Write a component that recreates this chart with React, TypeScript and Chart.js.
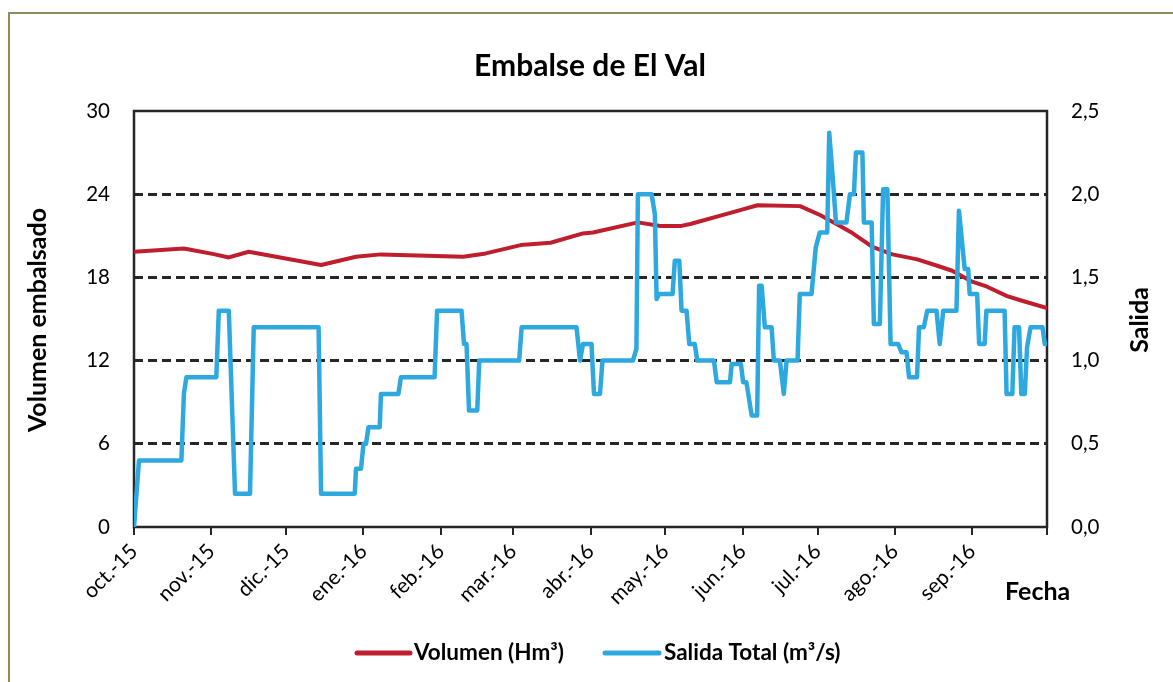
import React, { useEffect, useRef } from "react";
import { Chart, registerables } from "chart.js";

Chart.register(...registerables);

// ---- data ----
const monthLabels = [
  "oct.-15", "nov.-15", "dic.-15", "ene.-16", "feb.-16", "mar.-16",
  "abr.-16", "may.-16", "jun.-16", "jul.-16", "ago.-16", "sep.-16",
];
// day index (from 1 Oct 2015) where each month starts; last = 1 Oct 2016
const monthStartDays = [0, 31, 61, 92, 123, 152, 183, 213, 244, 274, 305, 336, 366];

const volumeDays = [
  0, 20, 32, 38, 46, 75, 89, 99, 121, 132, 141, 155, 167, 180, 184, 202, 211, 219,
  223, 238, 243, 250, 267, 275, 283, 288, 296, 304, 314, 322, 328, 336, 342, 350, 355, 366,
];
const volumeValues = [
  19.85, 20.09, 19.68, 19.44, 19.85, 18.89, 19.49, 19.66, 19.54, 19.49, 19.73, 20.33,
  20.5, 21.17, 21.24, 21.97, 21.7, 21.7, 21.85, 22.6, 22.85, 23.2, 23.14, 22.5, 21.7,
  21.2, 20.2, 19.66, 19.3, 18.84, 18.48, 17.69, 17.33, 16.65, 16.37, 15.79,
];

const outflowDays = [
  0, 2, 19, 20, 21, 33, 34, 38, 40.5, 46.5, 48, 74, 75, 88.5, 89, 91, 92, 93, 94, 98.5,
  99, 106, 107, 120.5, 121.5, 131.3, 132.3, 133.3, 134.3, 137.6, 138.4, 154.4, 155.4,
  177.4, 178.8, 180, 183.4, 184.4, 186.8, 187.8, 200, 201.4, 202, 207.5, 208.8, 209.5,
  210.5, 215.9, 216.8, 218.6, 219.5, 221.5, 222.6, 224.8, 225.8, 232.5, 233.6, 238.9,
  239.6, 243.3, 244.2, 245.5, 247.6, 249.8, 250.6, 251.6, 252.9, 255.6, 256.5, 258.9,
  260.5, 261.6, 266, 266.9, 271.6, 273.3, 274.9, 277.9, 278.7, 280.3, 281.4, 285.6,
  287, 288.6, 289.4, 292, 292.6, 295.7, 296.6, 299, 300.3, 302, 303.3, 306.3, 307.7,
  309.7, 310.7, 313.9, 314.7, 316.6, 318, 321.7, 323, 324.4, 329.7, 330.7, 333, 334.4,
  335, 338, 338.8, 341, 341.7, 349, 349.8, 352.1, 353, 354.8, 355.7, 357.1, 358, 359.4,
  364.2, 365.1, 366,
];
const outflowValues = [
  0, 0.4, 0.4, 0.8, 0.9, 0.9, 1.3, 1.3, 0.2, 0.2, 1.2, 1.2, 0.2, 0.2, 0.35, 0.35, 0.5, 0.5,
  0.6, 0.6, 0.8, 0.8, 0.9, 0.9, 1.3, 1.3, 1.1, 1.1, 0.7, 0.7, 1.0, 1.0, 1.2, 1.2, 1.0,
  1.1, 1.1, 0.8, 0.8, 1.0, 1.0, 1.07, 2.0, 2.0, 1.88, 1.37, 1.4, 1.4, 1.6, 1.6, 1.3, 1.3,
  1.1, 1.1, 1.0, 1.0, 0.87, 0.87, 0.98, 0.98, 0.87, 0.87, 0.67, 0.67, 1.45, 1.45, 1.2,
  1.2, 1.0, 1.0, 0.8, 1.0, 1.0, 1.4, 1.4, 1.68, 1.77, 1.77, 2.37, 2.06, 1.83, 1.83, 2.0,
  2.0, 2.25, 2.25, 1.83, 1.83, 1.22, 1.22, 2.03, 2.03, 1.1, 1.1, 1.05, 1.05, 0.9, 0.9,
  1.2, 1.2, 1.3, 1.3, 1.1, 1.3, 1.3, 1.9, 1.55, 1.55, 1.4, 1.4, 1.1, 1.1, 1.3, 1.3, 0.8,
  0.8, 1.2, 1.2, 0.8, 0.8, 1.08, 1.2, 1.2, 1.1, 1.1,
];

const leftMax = 30;
const leftStep = 6;
const rightMax = 2.5;
const rightStep = 0.5;

const titleText = "Embalse de El Val";
const leftTitle = "Volumen embalsado";
const rightTitle = "Salida";
const xTitle = "Fecha";
const volumeLabel = "Volumen (Hm³)";
const outflowLabel = "Salida Total (m³/s)";

const RED = "#BE1E2D";
const BLUE = "#2EA9DF";
const DARK = "#262626";
const FONT = "Lato, 'Open Sans', sans-serif";

const decorPlugin = {
  id: "decor",
  beforeDraw(chart: any) {
    const c = chart.ctx;
    c.save();
    c.fillStyle = "#ffffff";
    c.fillRect(0, 0, chart.width, chart.height);
    c.strokeStyle = "#8E8C5E";
    c.lineWidth = 2;
    c.strokeRect(9, 13, chart.width + 40, chart.height + 40);
    c.restore();
  },
  beforeDatasetsDraw(chart: any) {
    const c = chart.ctx;
    const { left, right, top, bottom } = chart.chartArea;
    c.save();
    c.strokeStyle = DARK;
    c.lineWidth = 2.5;
    c.setLineDash([]);
    c.strokeRect(left, top, right - left, bottom - top);
    c.restore();
  },
  afterDraw(chart: any) {
    const c = chart.ctx;
    c.save();
    c.fillStyle = "#000000";
    c.textBaseline = "middle";
    // title
    c.font = `bold 30px ${FONT}`;
    c.textAlign = "center";
    c.fillText(titleText, 590, 66);
    // left axis title
    c.font = `bold 25px ${FONT}`;
    c.save();
    c.translate(38, 320);
    c.rotate(-Math.PI / 2);
    c.fillText(leftTitle, 0, 0);
    c.restore();
    // right axis title
    c.save();
    c.translate(1140, 320);
    c.rotate(-Math.PI / 2);
    c.fillText(rightTitle, 0, 0);
    c.restore();
    // x title
    c.textAlign = "left";
    c.fillText(xTitle, 1005, 592);
    // legend
    const ly = 653;
    c.lineCap = "round";
    c.lineWidth = 5;
    c.strokeStyle = RED;
    c.beginPath();
    c.moveTo(357, ly);
    c.lineTo(410, ly);
    c.stroke();
    c.strokeStyle = BLUE;
    c.beginPath();
    c.moveTo(605, ly);
    c.lineTo(659, ly);
    c.stroke();
    c.font = `bold 22.5px ${FONT}`;
    c.fillText(volumeLabel, 414, ly);
    c.fillText(outflowLabel, 664, ly);
    c.restore();
  },
};

export default function App() {
  const ref = useRef<HTMLCanvasElement | null>(null);

  useEffect(() => {
    if (!ref.current) return;
    const volumePoints = volumeDays.map((d, i) => ({ x: d, y: volumeValues[i] }));
    const outflowPoints = outflowDays.map((d, i) => ({ x: d, y: outflowValues[i] }));

    const chart = new Chart(ref.current, {
      type: "line",
      data: {
        datasets: [
          {
            label: volumeLabel,
            data: volumePoints,
            yAxisID: "yL",
            borderColor: RED,
            borderWidth: 4,
            pointRadius: 0,
            tension: 0,
            borderJoinStyle: "round",
            borderCapStyle: "round",
            order: 2,
          },
          {
            label: outflowLabel,
            data: outflowPoints,
            yAxisID: "yR",
            borderColor: BLUE,
            borderWidth: 4.5,
            pointRadius: 0,
            tension: 0,
            borderJoinStyle: "round",
            borderCapStyle: "round",
            order: 1,
          },
        ],
      },
      options: {
        responsive: false,
        animation: false,
        events: [],
        layout: { padding: { left: 0, right: 0, top: 111, bottom: 0 } },
        plugins: {
          legend: { display: false },
          title: { display: false },
          tooltip: { enabled: false },
        },
        scales: {
          x: {
            type: "linear",
            min: 0,
            max: 366,
            afterBuildTicks: (scale: any) => {
              scale.ticks = monthStartDays.map((v) => ({ value: v }));
            },
            afterFit: (scale: any) => {
              scale.height = 155;
            },
            ticks: {
              autoSkip: false,
              minRotation: 45,
              maxRotation: 45,
              padding: 4,
              color: "#000000",
              font: { family: FONT, size: 21 },
              callback: (_v: any, i: number) => monthLabels[i] ?? "",
            },
            grid: {
              drawOnChartArea: false,
              drawTicks: true,
              tickLength: 8,
              tickColor: DARK,
              lineWidth: 2,
            },
            border: { display: false },
          },
          yL: {
            type: "linear",
            position: "left",
            min: 0,
            max: leftMax,
            afterFit: (scale: any) => {
              scale.width = 134;
            },
            ticks: {
              stepSize: leftStep,
              padding: 24,
              color: "#000000",
              font: { family: FONT, size: 20.5 },
              callback: (v: any) => String(v),
            },
            grid: {
              drawTicks: false,
              lineWidth: 3,
              color: (ctx: any) =>
                ctx.tick && (ctx.tick.value === 0 || ctx.tick.value === leftMax)
                  ? "rgba(0,0,0,0)"
                  : DARK,
            },
            border: { display: false, dash: [9, 5] },
          },
          yR: {
            type: "linear",
            position: "right",
            min: 0,
            max: rightMax,
            afterFit: (scale: any) => {
              scale.width = 126;
            },
            ticks: {
              stepSize: rightStep,
              padding: 24,
              color: "#000000",
              font: { family: FONT, size: 20.5 },
              callback: (v: any) => Number(v).toFixed(1).replace(".", ","),
            },
            grid: { display: false, drawTicks: false },
            border: { display: false },
          },
        },
      },
      plugins: [decorPlugin],
    } as any);

    return () => chart.destroy();
  }, []);

  return (
    <div style={{ position: "fixed", left: 0, top: 0, width: 1173, height: 682, background: "#fff" }}>
      <canvas ref={ref} width={1173} height={682} style={{ width: 1173, height: 682, display: "block" }} />
    </div>
  );
}
